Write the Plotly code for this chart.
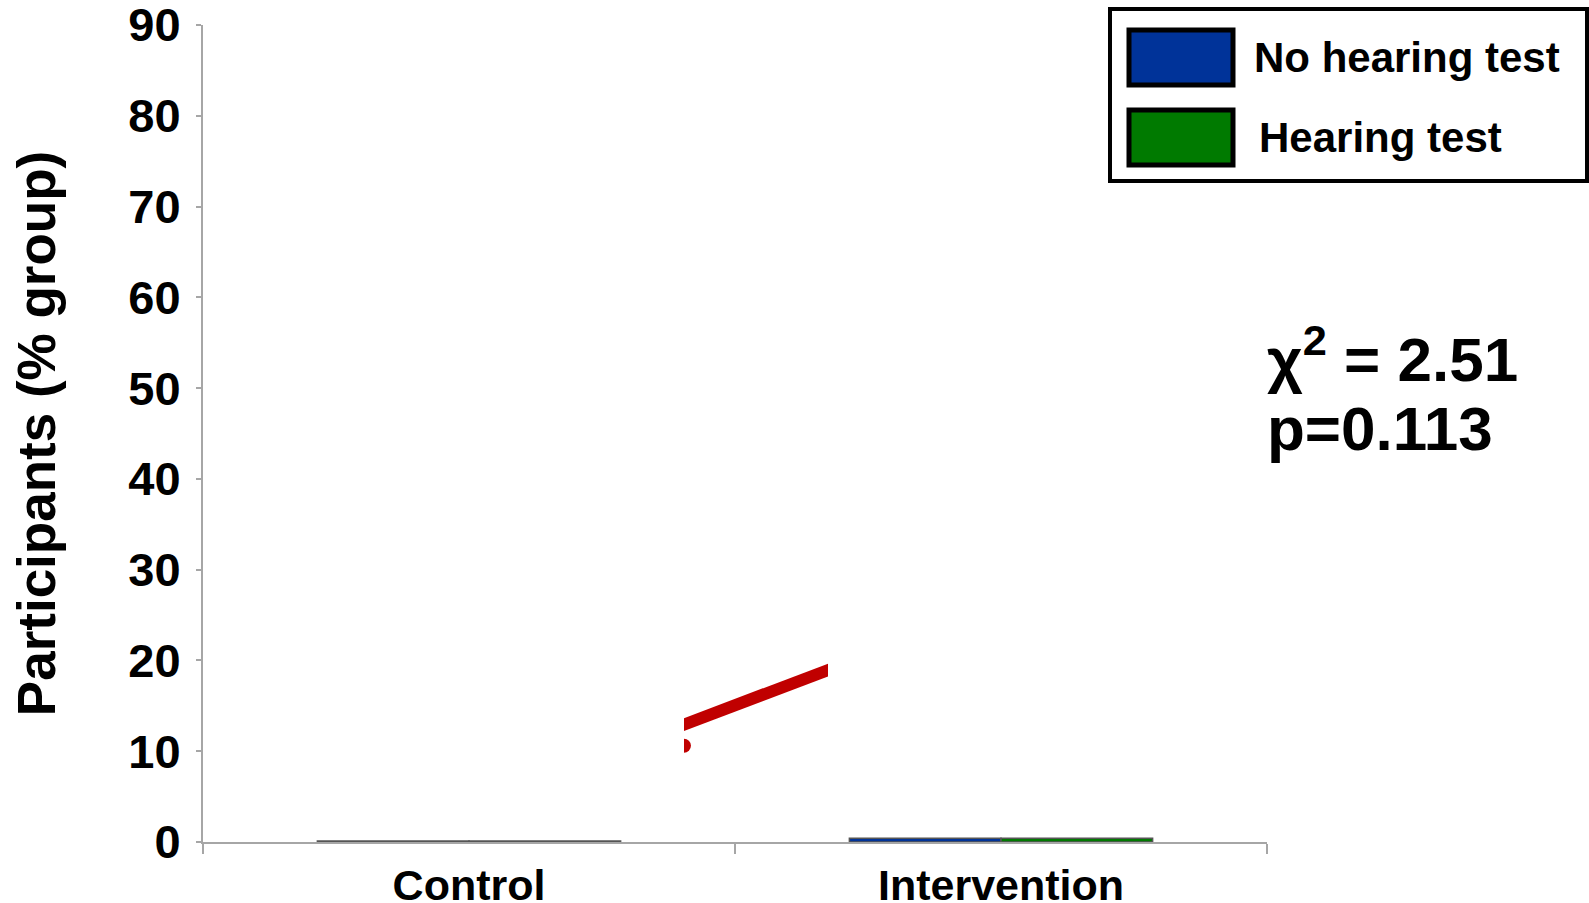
import plotly.graph_objects as go

# ---- data ----
categories = ["Control", "Intervention"]
series_names = ["No hearing test", "Hearing test"]
no_test_values = [0.1, 0.4]
test_values = [0.1, 0.4]
series_colors = ["#003399", "#007A00"]
y_ticks = [0, 10, 20, 30, 40, 50, 60, 70, 80, 90]

red_line_x = [0.38, 0.70]
red_line_y = [12.4, 19.5]
red_dot_x = [0.404]
red_dot_y = [10.6]

stat_line1 = "χ<sup>2</sup> = 2.51"
stat_line2 = "p=0.113"

# ---- layout geometry (pixels) ----
W, H = 1589, 903
L, R, T, B = 203, 1267, 25, 842
PW, PH = R - L, B - T


def px_x(px):
    return (px - L) / PW


def px_y(py):
    return (B - py) / PH


FONT = "Liberation Sans, Arial, sans-serif"

fig = go.Figure()
for name, vals, col in zip(series_names, [no_test_values, test_values], series_colors):
    fig.add_trace(go.Bar(
        x=categories, y=vals, name=name,
        marker=dict(color=col, line=dict(color="#555555", width=1.5)),
        showlegend=False,
    ))

# red line, clipped by a narrow overlay subplot
fig.add_trace(go.Scatter(
    x=red_line_x, y=red_line_y, mode="lines",
    line=dict(color="#C00000", width=12),
    xaxis="x2", yaxis="y2", showlegend=False, cliponaxis=True,
))
fig.add_trace(go.Scatter(
    x=red_dot_x, y=red_dot_y, mode="markers",
    marker=dict(color="#C00000", size=14),
    xaxis="x2", yaxis="y2", showlegend=False, cliponaxis=True,
))

clip_l, clip_r = 684, 828
x_per_px = 2.0 / PW

fig.update_layout(
    width=W, height=H,
    margin=dict(l=L, r=W - R, t=T, b=H - B, pad=0, autoexpand=False),
    paper_bgcolor="white",
    plot_bgcolor="rgba(0,0,0,0)",
    barmode="group", bargap=0.43, bargroupgap=0,
    font=dict(family=FONT, color="black"),
    hovermode=False,
    xaxis=dict(
        type="category", range=[-0.5, 1.5], automargin=False,
        showline=True, linecolor="#A6A6A6", linewidth=2,
        ticks="outside", tickson="boundaries", ticklen=10, tickcolor="#A6A6A6", tickwidth=2,
        tickfont=dict(size=43, family=FONT, weight="bold", color="black"),
        ticklabeloverflow="allow", ticklabelstandoff=4,
        showgrid=False, zeroline=False,
    ),
    yaxis=dict(
        range=[0, 90], tickvals=y_ticks, automargin=False,
        showline=True, linecolor="#A6A6A6", linewidth=2,
        ticks="outside", ticklen=5, tickcolor="#A6A6A6", tickwidth=2,
        tickfont=dict(size=47, family=FONT, weight="bold", color="black"),
        ticklabelstandoff=6, ticklabeloverflow="allow",
        showgrid=False, zeroline=False,
        title=dict(text="Participants (% group)", standoff=56,
                   font=dict(size=53, family=FONT, weight="bold", color="black")),
    ),
    xaxis2=dict(
        domain=[px_x(clip_l), px_x(clip_r)],
        range=[-0.5 + (clip_l - L) * x_per_px, -0.5 + (clip_r - L) * x_per_px],
        anchor="y2", visible=False, showgrid=False, zeroline=False, automargin=False,
    ),
    yaxis2=dict(
        domain=[0, 1], range=[0, 90], anchor="x2", automargin=False,
        visible=False, showgrid=False, zeroline=False,
    ),
)

# custom legend
shapes = [dict(type="rect", xref="paper", yref="paper",
               x0=px_x(1110), x1=px_x(1587), y0=px_y(9), y1=px_y(181),
               line=dict(color="black", width=4), fillcolor="white", layer="above")]
sw_rows = [(28, 87), (108, 167)]
text_x = [1252, 1257]
annotations = []
for (y0, y1), col, name, tx in zip(sw_rows, series_colors, series_names, text_x):
    shapes.append(dict(type="rect", xref="paper", yref="paper",
                       x0=px_x(1129), x1=px_x(1233), y0=px_y(y0 + 2), y1=px_y(y1 - 2),
                       line=dict(color="black", width=5), fillcolor=col, layer="above"))
    annotations.append(dict(xref="paper", yref="paper", x=px_x(tx), y=px_y((y0 + y1) / 2),
                            text=name, showarrow=False, xanchor="left", yanchor="middle",
                            font=dict(size=42, family=FONT, weight="bold", color="black")))

annotations.append(dict(xref="paper", yref="paper", x=px_x(1265), y=px_y(355),
                        text=stat_line1, showarrow=False, xanchor="left", yanchor="middle",
                        font=dict(size=62, family=FONT, weight="bold", color="black")))
annotations.append(dict(xref="paper", yref="paper", x=px_x(1265), y=px_y(429),
                        text=stat_line2, showarrow=False, xanchor="left", yanchor="middle",
                        font=dict(size=62, family=FONT, weight="bold", color="black")))

fig.update_layout(shapes=shapes, annotations=annotations)

fig.write_html("out.html", config={"displayModeBar": False, "staticPlot": True},
               post_script="document.body.style.margin='0';")
